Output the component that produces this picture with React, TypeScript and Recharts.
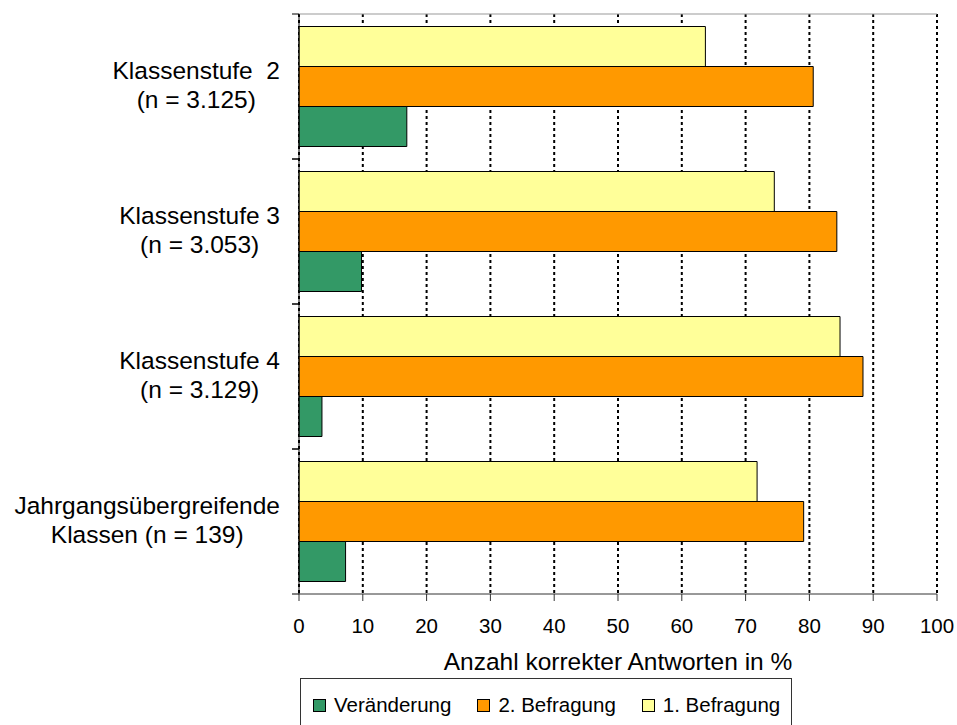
import { BarChart, Bar, XAxis, YAxis, CartesianGrid, Legend } from 'recharts'

const FONT = '"Liberation Sans", Arial, sans-serif'

// categories (line break = second label line)
const CATEGORIES = [
  'Klassenstufe  2\n(n = 3.125)',
  'Klassenstufe 3\n(n = 3.053)',
  'Klassenstufe 4\n(n = 3.129)',
  'Jahrgangsübergreifende\nKlassen (n = 139)',
]
const BEFRAGUNG_1 = [63.7, 74.5, 84.8, 71.8]
const BEFRAGUNG_2 = [80.6, 84.3, 88.4, 79.1]
const VERAENDERUNG = [16.9, 9.8, 3.6, 7.3]
const X_TICKS = [0, 10, 20, 30, 40, 50, 60, 70, 80, 90, 100]

const SERIES = [
  { key: 'b1', name: '1. Befragung', color: '#FFFF99' },
  { key: 'b2', name: '2. Befragung', color: '#FF9900' },
  { key: 'v', name: 'Veränderung', color: '#339966' },
]
const LEGEND_ORDER = ['v', 'b2', 'b1']

const data = CATEGORIES.map((name, i) => ({
  name,
  b1: BEFRAGUNG_1[i],
  b2: BEFRAGUNG_2[i],
  v: VERAENDERUNG[i],
}))

const LABEL_SIZE = 24.5
const LINE_H = 29
const CAT_MARGIN = 19
const BOUNDARY_TICK = 7

let ctx: CanvasRenderingContext2D | null = null
function textWidth(s: string, font: string) {
  if (!ctx) ctx = document.createElement('canvas').getContext('2d')
  if (!ctx) return s.length * 12
  ctx.font = font
  return ctx.measureText(s).width
}

// category label, centred block; also draws the tick marks at the band edges
function CategoryTick(props: any) {
  const { x, y, payload, height, visibleTicksCount } = props
  const lines = String(payload.value).split('\n')
  const w = Math.max(...lines.map((l) => textWidth(l, `${LABEL_SIZE}px ${FONT}`)))
  const cx = x - w / 2
  const half = payload.offset || (height && visibleTicksCount ? height / visibleTicksCount / 2 : 0)
  const edge = x + CAT_MARGIN
  return (
    <g>
      {half > 0 && (
        <>
          <line x1={edge - BOUNDARY_TICK} x2={edge} y1={y - half} y2={y - half} stroke="#000" />
          <line x1={edge - BOUNDARY_TICK} x2={edge} y1={y + half} y2={y + half} stroke="#000" />
        </>
      )}
      {lines.map((l, i) => (
        <text
          key={i}
          x={cx}
          y={y + (i - (lines.length - 1) / 2) * LINE_H - 1.5}
          dy="0.355em"
          textAnchor="middle"
          fontSize={LABEL_SIZE}
          fontFamily={FONT}
          fill="#000"
          style={{ whiteSpace: 'pre' }}
        >
          {l}
        </text>
      ))}
    </g>
  )
}

function LegendBox() {
  return (
    <div
      style={{
        width: 492,
        height: 54,
        boxSizing: 'border-box',
        border: '1px solid #333',
        background: '#fff',
        display: 'flex',
        alignItems: 'center',
        paddingLeft: 12,
        fontFamily: FONT,
        fontSize: 20.5,
        color: '#000',
      }}
    >
      {LEGEND_ORDER.map((k) => {
        const s = SERIES.find((x) => x.key === k)!
        return (
          <div key={k} style={{ display: 'flex', alignItems: 'center', marginRight: 26 }}>
            <span
              style={{
                width: 13,
                height: 13,
                boxSizing: 'border-box',
                border: '1px solid #000',
                background: s.color,
                marginRight: 8,
              }}
            />
            <span style={{ whiteSpace: 'pre' }}>{s.name}</span>
          </div>
        )
      })}
    </div>
  )
}

export default function App() {
  return (
    <div style={{ position: 'absolute', left: 0, top: 0, width: 957, height: 725, background: '#fff' }}>
      <BarChart
        width={957}
        height={725}
        data={data}
        layout="vertical"
        margin={{ top: 13, right: 20, bottom: 0, left: 0 }}
        barCategoryGap={12.5}
        barGap={0}
        style={{ fontFamily: FONT }}
      >
        <CartesianGrid horizontal={false} stroke="#000" strokeWidth={2} strokeDasharray="3 3" />
        <XAxis
          type="number"
          domain={[0, 100]}
          ticks={X_TICKS}
          interval={0}
          height={131}
          tickSize={7}
          tickMargin={17}
          stroke="#333"
          tick={{ fill: '#000', fontSize: 20.5, fontFamily: FONT }}
          label={{
            value: 'Anzahl korrekter Antworten in %',
            position: 'insideTop',
            offset: 59,
            fill: '#000',
            fontSize: 24.5,
            fontFamily: FONT,
          }}
        />
        {/* top frame line of the plot area */}
        <XAxis
          xAxisId="top"
          orientation="top"
          type="number"
          domain={[0, 100]}
          height={1}
          tick={false}
          tickLine={false}
          stroke="#999"
        />
        <YAxis
          type="category"
          dataKey="name"
          width={299}
          tickLine={false}
          tickSize={0}
          tickMargin={CAT_MARGIN}
          interval={0}
          stroke="#000"
          tick={<CategoryTick />}
        />
        {SERIES.map((s) => (
          <Bar
            key={s.key}
            dataKey={s.key}
            name={s.name}
            fill={s.color}
            stroke="#000"
            strokeWidth={1}
            isAnimationActive={false}
          />
        ))}
        <Legend
          layout="horizontal"
          verticalAlign="middle"
          align="center"
          wrapperStyle={{ left: 300, top: 678, width: 492, height: 54 }}
          content={() => <LegendBox />}
        />
      </BarChart>
    </div>
  )
}
